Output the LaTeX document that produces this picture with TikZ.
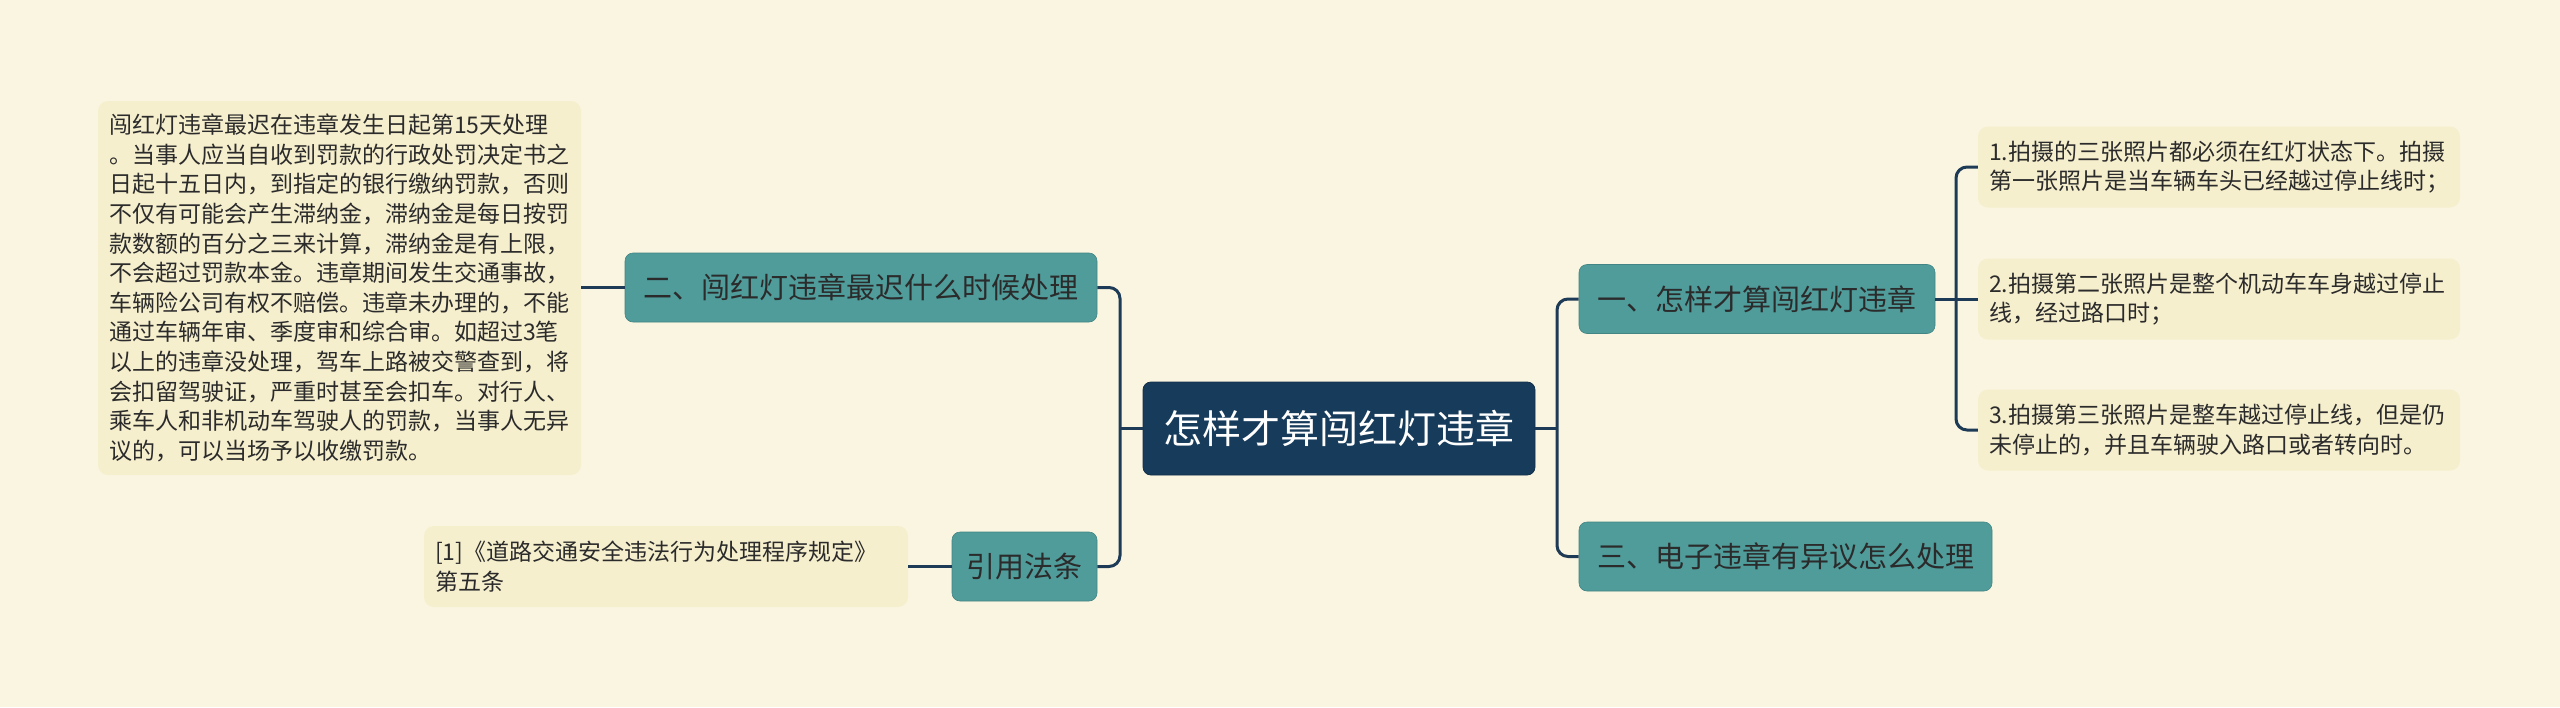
\documentclass[tikz,border=0pt]{standalone}
\usepackage{fontspec}
\setmainfont{Noto Sans CJK SC}
\definecolor{bgc}{HTML}{FAF5E0}
\definecolor{leafc}{HTML}{F6EFCE}
\definecolor{tealc}{HTML}{4F9C9B}
\definecolor{navyc}{HTML}{173B5B}
\definecolor{linec}{HTML}{1D3A56}
\definecolor{txtc}{HTML}{2B2B2B}
\begin{document}
\begin{tikzpicture}[x=1pt,y=-1pt,
  rootbox/.style={fill=navyc,draw=navyc!80!black,line width=0.8pt,rounded corners=8pt,text=white,
    font=\fontsize{39}{44}\selectfont,minimum height=93pt,inner sep=0pt},
  branchbox/.style={fill=tealc,draw=tealc!85!black,line width=0.6pt,rounded corners=8pt,text=txtc,
    font=\fontsize{29}{34}\selectfont,minimum height=69pt,inner sep=0pt},
  leafbox/.style={fill=leafc,rounded corners=10pt,text=txtc,align=left,
    font=\fontsize{23}{29.6}\selectfont,inner sep=11pt},
  conn/.style={draw=linec,line width=3pt,rounded corners=11pt}]
\useasboundingbox (0,0) rectangle (2560,707);
\fill[bgc] (0,0) rectangle (2560,707);

\node[rootbox,minimum width=392pt] (root) at (1339,428.5) {怎样才算闯红灯违章};
\node[branchbox,minimum width=472pt] (b2) at (861,287.5) {二、闯红灯违章最迟什么时候处理};
\node[branchbox,minimum width=145pt] (bref) at (1024.5,566.5) {引用法条};
\node[branchbox,minimum width=356pt] (b1) at (1757,299) {一、怎样才算闯红灯违章};
\node[branchbox,minimum width=413pt] (b3) at (1785.5,556.5) {三、电子违章有异议怎么处理};

\node[leafbox,minimum width=483pt,minimum height=374pt,text width=461pt] (L) at (339.5,288) {闯红灯违章最迟在违章发生日起第15天处理\\。当事人应当自收到罚款的行政处罚决定书之\\日起十五日内，到指定的银行缴纳罚款，否则\\不仅有可能会产生滞纳金，滞纳金是每日按罚\\款数额的百分之三来计算，滞纳金是有上限，\\不会超过罚款本金。违章期间发生交通事故，\\车辆险公司有权不赔偿。违章未办理的，不能\\通过车辆年审、季度审和综合审。如超过3笔\\以上的违章没处理，驾车上路被交警查到，将\\会扣留驾驶证，严重时甚至会扣车。对行人、\\乘车人和非机动车驾驶人的罚款，当事人无异\\议的，可以当场予以收缴罚款。};
\node[leafbox,minimum width=484pt,minimum height=81pt,text width=462pt] (ref) at (666,566.5) {[1]《道路交通安全违法行为处理程序规定》\\第五条};
\node[leafbox,minimum width=482pt,minimum height=81pt,text width=460pt] (r1) at (2219,167) {1.拍摄的三张照片都必须在红灯状态下。拍摄\\第一张照片是当车辆车头已经越过停止线时；};
\node[leafbox,minimum width=482pt,minimum height=81pt,text width=460pt] (r2) at (2219,299) {2.拍摄第二张照片是整个机动车车身越过停止\\线，经过路口时；};
\node[leafbox,minimum width=482pt,minimum height=81pt,text width=460pt] (r3) at (2219,430) {3.拍摄第三张照片是整车越过停止线，但是仍\\未停止的，并且车辆驶入路口或者转向时。};

\coordinate (sL) at (1120,428.5);
\coordinate (sR) at (1557,428.5);
\coordinate (sRR) at (1956,299);

\draw[conn] (root.west) -- (sL);
\draw[conn] (b2.east) -| (sL) |- (bref.east);
\draw[conn] (root.east) -- (sR);
\draw[conn] (b1.west) -| (sR) |- (b3.west);
\draw[conn] (b1.east) -- (sRR);
\draw[conn] (sRR) -- (r2.west);
\draw[conn] (r1.west) -| (sRR) |- (r3.west);
\draw[conn] (b2.west) -- (b2.west -| L.east);
\draw[conn] (bref.west) -- (bref.west -| ref.east);
\end{tikzpicture}
\end{document}
